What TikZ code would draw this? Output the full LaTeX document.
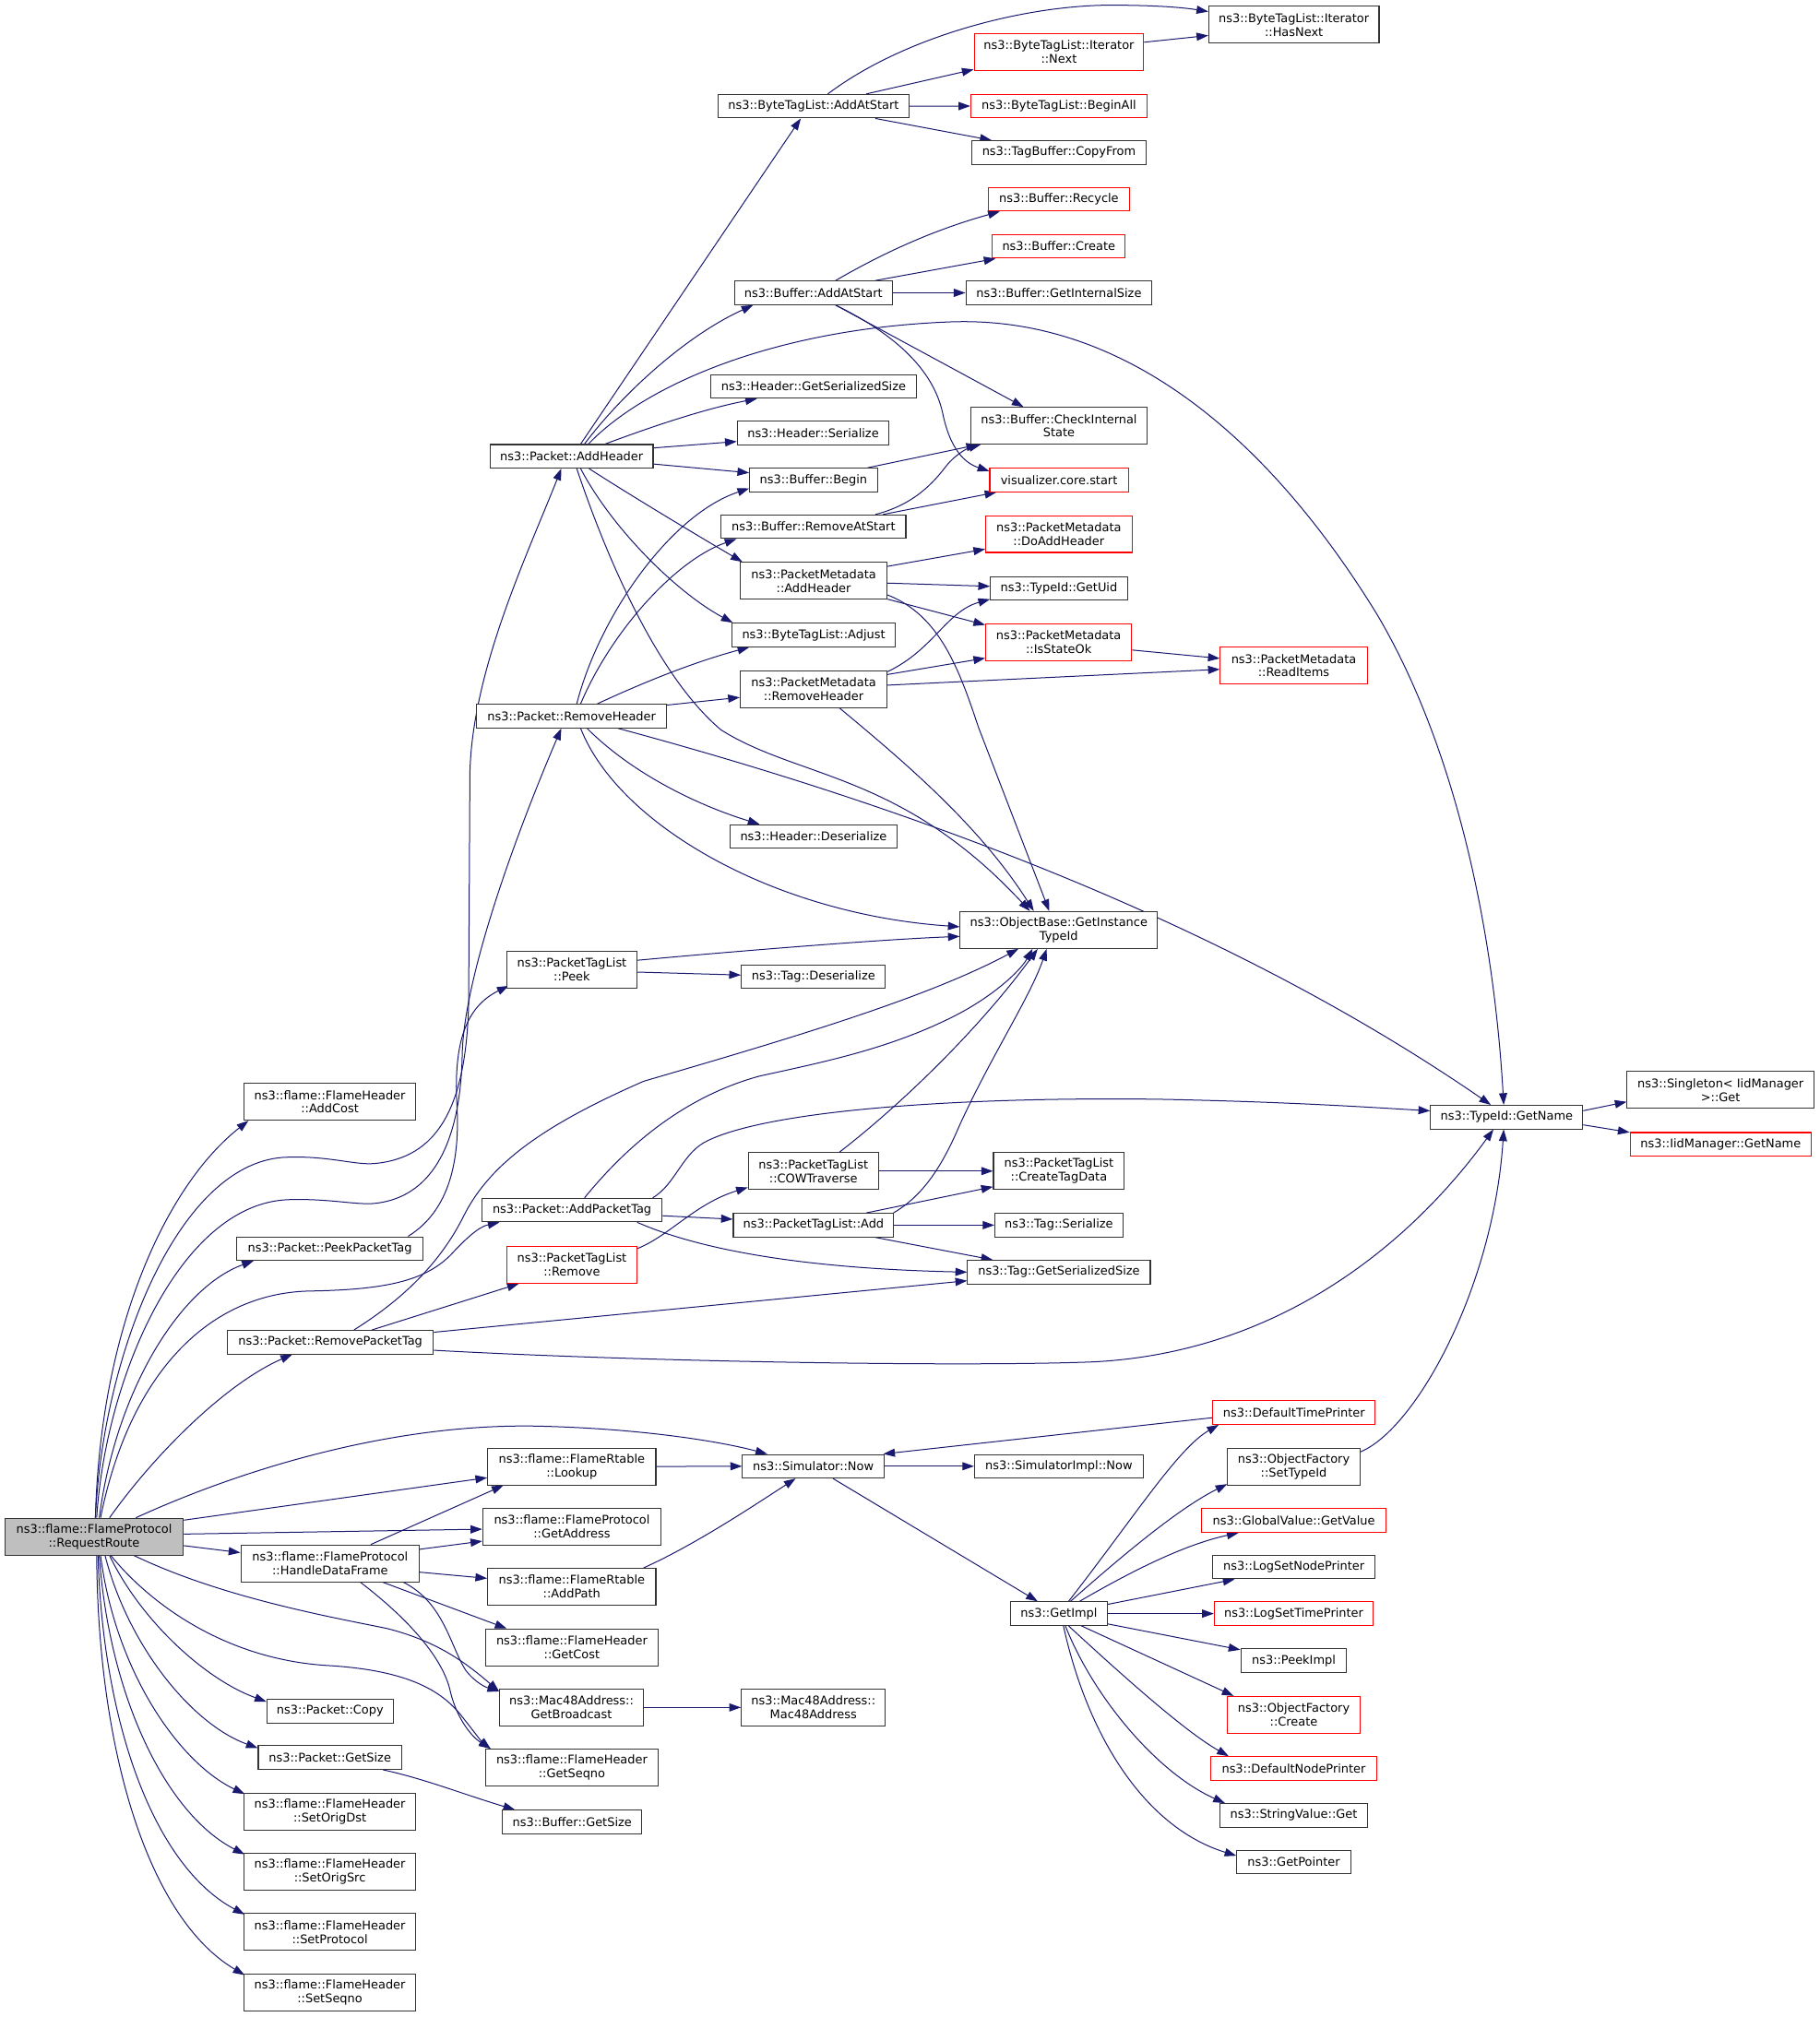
\documentclass[tikz,border=0pt]{standalone}
\usepackage{fontspec}
\newfontfamily\dvs{DejaVu Sans}
\usetikzlibrary{arrows.meta,calc}
\definecolor{edgec}{HTML}{191970}
\definecolor{redb}{HTML}{FF0000}
\definecolor{boxc}{HTML}{333333}
\newdimen\ux \ux=1.0467pt
\newcommand\nfont{\dvs\fontsize{9.7}{11.2}\selectfont}
\pgfdeclarelayer{bg}\pgfsetlayers{bg,main}
\begin{document}
\begin{tikzpicture}[x=1.0467pt,y=-1.0467pt,
 nb/.style={rectangle,draw=boxc,line width=0.8pt,fill=white,inner sep=0pt,align=center,font=\nfont,minimum height=18.3\ux},
 two/.style={minimum height=28.6\ux},
 rd/.style={draw=redb},
 bw/.style={minimum width=#1\ux},
 e/.style={draw=edgec,line width=0.75pt,-{Triangle[length=9.5pt,width=6.6pt]}}]
\useasboundingbox (0,0) rectangle (1413,1567);
% column 1-2
\node[nb,two,bw=138.6,fill=gray!50] (rr) at (73.1,1193.8) {ns3::flame::FlameProtocol\\::RequestRoute};
\node[nb,two,bw=133.7] (addcost) at (256.2,856) {ns3::flame::FlameHeader\\::AddCost};
\node[nb,bw=144.5] (peekpt) at (256.2,970) {ns3::Packet::PeekPacketTag};
\node[nb,bw=160] (rmpt) at (256.6,1042.7) {ns3::Packet::RemovePacketTag};
\node[nb,two,bw=138.7] (hdf) at (256.4,1214.6) {ns3::flame::FlameProtocol\\::HandleDataFrame};
\node[nb,bw=98.2] (copy) at (256.4,1329.3) {ns3::Packet::Copy};
\node[nb,bw=111.4] (pgetsize) at (256.3,1365.4) {ns3::Packet::GetSize};
\node[nb,two,bw=133.6] (setorigdst) at (256.2,1407.4) {ns3::flame::FlameHeader\\::SetOrigDst};
\node[nb,two,bw=133.6] (setorigsrc) at (256.2,1454.3) {ns3::flame::FlameHeader\\::SetOrigSrc};
\node[nb,two,bw=133.6] (setprotocol) at (256.2,1501) {ns3::flame::FlameHeader\\::SetProtocol};
\node[nb,two,bw=133.6] (setseqno) at (256.2,1548.1) {ns3::flame::FlameHeader\\::SetSeqno};
% column 3
\node[nb,bw=126.6] (addheader) at (444,354.5) {ns3::Packet::AddHeader};
\node[nb,bw=147.3] (rmheader) at (444,556.3) {ns3::Packet::RemoveHeader};
\node[nb,two,bw=101.4] (peek) at (444.2,753.2) {ns3::PacketTagList\\::Peek};
\node[nb,bw=140] (addpt) at (444.3,940.1) {ns3::Packet::AddPacketTag};
\node[nb,two,rd,bw=101.4] (ptlremove) at (444.2,982.6) {ns3::PacketTagList\\::Remove};
\node[nb,two,bw=130.7] (lookup) at (444.1,1139.3) {ns3::flame::FlameRtable\\::Lookup};
\node[nb,two,bw=138.5] (getaddress) at (444.2,1186) {ns3::flame::FlameProtocol\\::GetAddress};
\node[nb,two,bw=130.7] (addpath) at (444.1,1232.7) {ns3::flame::FlameRtable\\::AddPath};
\node[nb,two,bw=133.4] (getcost) at (444.2,1279.8) {ns3::flame::FlameHeader\\::GetCost};
\node[nb,two,bw=111.7] (getbroadcast) at (443.9,1326.5) {ns3::Mac48Address::\\GetBroadcast};
\node[nb,two,bw=133.4] (getseqno) at (444.2,1373.2) {ns3::flame::FlameHeader\\::GetSeqno};
\node[nb,bw=108.1] (bgetsize) at (444.4,1415.5) {ns3::Buffer::GetSize};
% column 4
\node[nb,bw=148.4] (btladd) at (631.9,82.5) {ns3::ByteTagList::AddAtStart};
\node[nb,bw=122.7] (baddat) at (631.8,227.5) {ns3::Buffer::AddAtStart};
\node[nb,bw=159.8] (hgetss) at (631.9,300.2) {ns3::Header::GetSerializedSize};
\node[nb,bw=117.9] (hser) at (631.6,336.5) {ns3::Header::Serialize};
\node[nb,bw=99.2] (bbegin) at (631.9,372.9) {ns3::Buffer::Begin};
\node[nb,bw=143.4] (brmat) at (631.9,409.2) {ns3::Buffer::RemoveAtStart};
\node[nb,two,bw=114] (pmaddh) at (632,451.2) {ns3::PacketMetadata\\::AddHeader};
\node[nb,bw=126.9] (btladj) at (632,493.3) {ns3::ByteTagList::Adjust};
\node[nb,two,bw=114] (pmrmh) at (632,535.3) {ns3::PacketMetadata\\::RemoveHeader};
\node[nb,bw=129.8] (hdeser) at (631.9,649.9) {ns3::Header::Deserialize};
\node[nb,bw=111.9] (tagdeser) at (631.8,758.8) {ns3::Tag::Deserialize};
\node[nb,two,bw=101.1] (cow) at (631.8,909.8) {ns3::PacketTagList\\::COWTraverse};
\node[nb,bw=124.6] (ptladd) at (631.9,951.8) {ns3::PacketTagList::Add};
\node[nb,bw=109.9] (simnow) at (631.7,1139.1) {ns3::Simulator::Now};
\node[nb,two,bw=111.9] (mac48) at (631.8,1326.5) {ns3::Mac48Address::\\Mac48Address};
% column 5
\node[nb,two,rd,bw=131.7] (itnext) at (822.5,40.3) {ns3::ByteTagList::Iterator\\::Next};
\node[nb,rd,bw=136.9] (beginall) at (822.5,82.4) {ns3::ByteTagList::BeginAll};
\node[nb,bw=135.7] (copyfrom) at (822.5,118.5) {ns3::TagBuffer::CopyFrom};
\node[nb,rd,bw=109.1] (recycle) at (822.5,154.8) {ns3::Buffer::Recycle};
\node[nb,rd,bw=103.4] (bcreate) at (822.4,191.4) {ns3::Buffer::Create};
\node[nb,bw=144.5] (getintsize) at (822.5,227.5) {ns3::Buffer::GetInternalSize};
\node[nb,two,bw=136.9] (checkint) at (822.5,330.8) {ns3::Buffer::CheckInternal\\State};
\node[nb,rd,bw=107.6] (vizstart) at (822.6,372.9) {visualizer.core.start};
\node[nb,two,rd,bw=113.6] (doaddh) at (822.4,414.9) {ns3::PacketMetadata\\::DoAddHeader};
\node[nb,bw=106.3] (getuid) at (822.5,457) {ns3::TypeId::GetUid};
\node[nb,two,rd,bw=113.4] (isok) at (822.3,499) {ns3::PacketMetadata\\::IsStateOk};
\node[nb,two,bw=153.2] (objb) at (822.4,722.5) {ns3::ObjectBase::GetInstance\\TypeId};
\node[nb,two,bw=101.7] (createtag) at (822.5,909.8) {ns3::PacketTagList\\::CreateTagData};
\node[nb,bw=99.5] (tagser) at (822.5,951.8) {ns3::Tag::Serialize};
\node[nb,bw=141.9] (taggss) at (822.5,988.3) {ns3::Tag::GetSerializedSize};
\node[nb,bw=131.1] (simimpl) at (822.5,1139.1) {ns3::SimulatorImpl::Now};
\node[nb,bw=75] (getimpl) at (822.5,1253.6) {ns3::GetImpl};
% column 6-7
\node[nb,two,bw=132.3] (hasnext) at (1005,19.2) {ns3::ByteTagList::Iterator\\::HasNext};
\node[nb,two,rd,bw=114.2] (readitems) at (1004.9,517.1) {ns3::PacketMetadata\\::ReadItems};
\node[nb,bw=118.2] (tgetname) at (1170.3,867.9) {ns3::TypeId::GetName};
\node[nb,two,bw=145.2] (singleton) at (1336.4,846.8) {ns3::Singleton< IidManager\\>::Get};
\node[nb,rd,bw=140.7] (iidget) at (1336.5,889) {ns3::IidManager::GetName};
\node[nb,rd,bw=126.2] (dtp) at (1005.1,1097.4) {ns3::DefaultTimePrinter};
\node[nb,two,bw=102.6] (settypeid) at (1004.9,1139.3) {ns3::ObjectFactory\\::SetTypeId};
\node[nb,rd,bw=143.5] (gvget) at (1005,1181.3) {ns3::GlobalValue::GetValue};
\node[nb,bw=125.7] (lsnp) at (1005,1217.4) {ns3::LogSetNodePrinter};
\node[nb,rd,bw=123.4] (lstp) at (1004.9,1253.6) {ns3::LogSetTimePrinter};
\node[nb,bw=82.3] (peekimpl) at (1004.9,1290.2) {ns3::PeekImpl};
\node[nb,two,rd,bw=102.6] (ofcreate) at (1004.9,1332.2) {ns3::ObjectFactory\\::Create};
\node[nb,rd,bw=128.4] (dnp) at (1004.9,1373.9) {ns3::DefaultNodePrinter};
\node[nb,bw=114.2] (svget) at (1004.9,1410.3) {ns3::StringValue::Get};
\node[nb,bw=88.4] (getptr) at (1004.9,1446.7) {ns3::GetPointer};

\begin{pgfonlayer}{bg}
\fill[white] (0,0) rectangle (1413,1567);
% RequestRoute
\draw[e] ($(rr.north)+(1,0)$) .. controls (78,1030) and (130,920) .. ($(addcost.south west)+(4,0)$);
\draw[e] ($(rr.north)+(1,0)$) .. controls (80,1050) and (140,900) .. (224,899) .. controls (255,898) and (275,905) .. (290,904) .. controls (340,900) and (362,860) .. (364,780) -- (365,600) .. controls (367,520) and (410,430) .. ($(addheader.south)+(-8,0)$);
\draw[e] ($(rr.north)+(2,0)$) .. controls (82,1070) and (140,935) .. (224,932) .. controls (255,931) and (275,936) .. (290,935) .. controls (345,930) and (358,870) .. (359,820) .. controls (360,760) and (400,650) .. ($(rmheader.south)+(-8,0)$);
\draw[e] ($(rr.north)+(4,0)$) .. controls (90,1080) and (140,1000) .. ($(peekpt.south)+(-59.2,0)$);
\draw[e] ($(rr.north)+(5,0)$) .. controls (100,1070) and (160,1005) .. (240,1003) .. controls (300,1002) and (330,995) .. (350,975) .. controls (362,962) and (372,953) .. ($(addpt.south)+(-56.3,0)$);
\draw[e] ($(rr.north)+(12,0)$) .. controls (120,1130) and (175,1075) .. ($(rmpt.south)+(-29.6,0)$);
\draw[e] ($(rr.north)+(32.5,0)$) .. controls (180,1145) and (300,1105) .. (420,1108) .. controls (500,1110) and (560,1120) .. ($(simnow.north)+(-35.7,0)$);
\draw[e] ($(rr.east)+(0,-12.8)$) -- ($(lookup.west)+(0,8.7)$);
\draw[e] ($(rr.east)+(0,-2)$) -- ($(getaddress.west)+(0,2)$);
\draw[e] ($(rr.east)+(0,7)$) -- ($(hdf.west)+(0,-8.4)$);
\draw[e] ($(rr.south)+(31,0)$) .. controls (170,1240) and (250,1255) .. (300,1265) .. controls (340,1275) and (362,1292) .. ($(getbroadcast.west)+(0,-12.5)$);
\draw[e] ($(rr.south)+(13,0)$) .. controls (120,1250) and (180,1290) .. (256,1294) .. controls (320,1298) and (345,1315) .. (360,1335) .. controls (368,1345) and (373,1352) .. ($(getseqno.north)+(-63.2,0)$);
\draw[e] ($(rr.south)+(12,0)$) .. controls (110,1260) and (160,1305) .. ($(copy.west)+(0,-7.3)$);
\draw[e] ($(rr.south)+(8.5,0)$) .. controls (100,1280) and (150,1340) .. ($(pgetsize.west)+(0,-7.4)$);
\draw[e] ($(rr.south)+(5,0)$) .. controls (90,1300) and (140,1370) .. ($(setorigdst.north west)+(1,1)$);
\draw[e] ($(rr.south)+(4,0)$) .. controls (85,1320) and (130,1410) .. ($(setorigsrc.north west)+(1,1)$);
\draw[e] ($(rr.south)+(3,0)$) .. controls (80,1340) and (120,1450) .. ($(setprotocol.north west)+(1,1)$);
\draw[e] ($(rr.south)+(2,0)$) .. controls (76,1360) and (115,1490) .. ($(setseqno.north west)+(1,1)$);
% PeekPacketTag
\draw[e] ($(peekpt.north)+(60.8,0)$) .. controls (350,940) and (357,900) .. (355,860) .. controls (352,810) and (362,782) .. ($(peek.south west)+(2,-2)$);
% HandleDataFrame
\draw[e] ($(hdf.north)+(31.6,0)$) -- ($(lookup.south)+(-53.1,0)$);
\draw[e] ($(hdf.east)+(0,-11)$) -- ($(getaddress.west)+(0,11.3)$);
\draw[e] ($(hdf.east)+(0,6.8)$) -- ($(addpath.west)+(0,-6.5)$);
\draw[e] ($(hdf.south)+(41.1,0)$) -- ($(getcost.north)+(-50.7,0)$);
\draw[e] ($(hdf.south)+(57,0)$) .. controls (345,1245) and (350,1280) .. (362,1298) .. controls (370,1308) and (378,1311) .. ($(getbroadcast.west)+(0,-12.5)$);
\draw[e] ($(hdf.south)+(23.6,0)$) .. controls (320,1260) and (345,1290) .. (350,1315) .. controls (355,1335) and (366,1349) .. ($(getseqno.north)+(-63.2,0)$);
% Simulator / GetImpl
\draw[e] (lookup.east) -- (simnow.west);
\draw[e] ($(addpath.north)+(55.9,0)$) .. controls (540,1200) and (585,1170) .. ($(simnow.south)+(-13.7,0)$);
\draw[e] (simnow.east) -- (simimpl.west);
\draw[e] ($(dtp.west)+(0,4)$) -- ($(simnow.north east)+(-1,0)$);
\draw[e] ($(simnow.south)+(15.3,0)$) -- ($(getimpl.north)+(-16.5,0)$);
\draw[e] ($(getimpl.north)+(7.5,0)$) .. controls (880,1180) and (915,1125) .. ($(dtp.south west)+(5,0)$);
\draw[e] ($(getimpl.north)+(9,0)$) .. controls (870,1210) and (915,1172) .. ($(settypeid.south west)+(0,-1)$);
\draw[e] ($(getimpl.north)+(16,0)$) .. controls (880,1220) and (920,1200) .. ($(gvget.south)+(-43,0)$);
\draw[e] ($(getimpl.east)+(0,-7.2)$) -- ($(lsnp.south)+(-46,0)$);
\draw[e] (getimpl.east) -- (lstp.west);
\draw[e] ($(getimpl.east)+(0,8)$) -- ($(peekimpl.north west)+(0,1)$);
\draw[e] ($(getimpl.south)+(17.5,0)$) -- ($(ofcreate.north west)+(5,0)$);
\draw[e] ($(getimpl.south)+(7.5,0)$) .. controls (870,1300) and (920,1345) .. ($(dnp.north west)+(14,0)$);
\draw[e] ($(getimpl.south)+(5,0)$) .. controls (850,1320) and (900,1378) .. ($(svget.north west)+(4,0)$);
\draw[e] ($(getimpl.south)+(3.5,0)$) .. controls (845,1350) and (890,1420) .. ($(getptr.west)+(0,-5)$);
\draw[e] ($(settypeid.east)+(0,-11.3)$) .. controls (1100,1110) and (1160,1000) .. ($(tgetname.south)+(-2.3,0)$);
\draw[e] (getbroadcast.east) -- (mac48.west);
\draw[e] ($(pgetsize.south)+(41.2,0)$) .. controls (330,1382) and (360,1394) .. ($(bgetsize.north)+(-44.4,0)$);
% AddHeader
\draw[e] ($(addheader.north)+(7,0)$) -- ($(btladd.south)+(-9.9,0)$);
\draw[e] ($(addheader.north)+(10,0)$) .. controls (480,310) and (530,262) .. ($(baddat.south)+(-46.8,0)$);
\draw[e] ($(addheader.north)+(13,0)$) .. controls (500,300) and (600,255) .. (740,250) .. controls (900,245) and (1010,380) .. (1070,478) .. controls (1130,580) and (1160,720) .. ($(tgetname.north)+(-2.3,0)$);
\draw[e] ($(addheader.north)+(26,0)$) .. controls (510,330) and (550,317) .. ($(hgetss.south)+(-43.9,0)$);
\draw[e] ($(addheader.east)+(0,-6.5)$) -- ($(hser.west)+(0,6.5)$);
\draw[e] ($(addheader.east)+(0,6)$) -- ($(bbegin.west)+(0,-5.6)$);
\draw[e] ($(addheader.south)+(13.5,0)$) .. controls (490,385) and (540,415) .. ($(pmaddh.north west)+(2,0)$);
\draw[e] ($(addheader.south)+(7,0)$) .. controls (475,410) and (525,460) .. ($(btladj.north west)+(1,0)$);
\draw[e] ($(addheader.south)+(4,0)$) .. controls (470,430) and (510,525) .. (560,567) .. controls (620,605) and (700,600) .. ($(objb.north)+(-22.4,0)$);
% RemoveHeader
\draw[e] ($(rmheader.north)+(4,0)$) .. controls (465,480) and (520,400) .. ($(bbegin.south west)+(0,-3)$);
\draw[e] ($(rmheader.north)+(7,0)$) .. controls (475,490) and (525,435) .. ($(brmat.south)+(-59.9,0)$);
\draw[e] ($(rmheader.north)+(20,0)$) .. controls (500,530) and (540,514) .. ($(btladj.south)+(-50,0)$);
\draw[e] ($(rmheader.north east)+(0,1)$) -- ($(pmrmh.west)+(0,6.5)$);
\draw[e] ($(rmheader.south)+(36,0)$) .. controls (700,625) and (950,715) .. ($(tgetname.north)+(-12.3,0)$);
\draw[e] ($(rmheader.south)+(12,0)$) .. controls (490,600) and (540,625) .. ($(hdeser.north)+(-41.9,0)$);
\draw[e] ($(rmheader.south)+(7,0)$) .. controls (480,640) and (600,710) .. ($(objb.west)+(0,-2.5)$);
% Peek
\draw[e] ($(peek.east)+(0,-7.2)$) .. controls (560,740) and (680,730) .. ($(objb.west)+(0,5)$);
\draw[e] ($(peek.east)+(0,2)$) -- ($(tagdeser.west)+(0,-1.3)$);
% PacketMetadata
\draw[e] ($(pmaddh.east)+(0,-11.2)$) -- ($(doaddh.west)+(0,11.7)$);
\draw[e] ($(pmaddh.east)+(0,1.8)$) -- ($(getuid.west)+(0,-1.5)$);
\draw[e] ($(pmaddh.east)+(0,14.3)$) -- ($(isok.west)+(0,-13.5)$);
\draw[e] ($(pmaddh.east)+(0,11)$) .. controls (730,478) and (745,520) .. (760,565) -- ($(objb.north)+(-7.4,0)$);
\draw[e] ($(pmrmh.east)+(0,-13.5)$) .. controls (725,505) and (735,475) .. ($(getuid.south west)+(0,-1)$);
\draw[e] ($(pmrmh.east)+(0,-11.3)$) -- ($(isok.west)+(0,12.3)$);
\draw[e] ($(pmrmh.east)+(0,-3)$) -- ($(readitems.west)+(0,2.9)$);
\draw[e] ($(isok.east)+(0,6)$) -- ($(readitems.west)+(0,-5.6)$);
\draw[e] ($(pmrmh.south)+(20,0)$) .. controls (700,590) and (760,640) .. ($(objb.north)+(-19.4,0)$);
% Buffer
\draw[e] ($(baddat.north)+(17.2,0)$) .. controls (680,200) and (720,180) .. ($(recycle.south west)+(9,0)$);
\draw[e] ($(baddat.north)+(48,0)$) -- ($(bcreate.south west)+(3,0)$);
\draw[e] (baddat.east) -- (getintsize.west);
\draw[e] ($(baddat.south)+(17.2,0)$) -- ($(checkint.north)+(-27.5,0)$);
\draw[e] ($(baddat.south)+(17.2,0)$) .. controls (700,262) and (725,290) .. (732,320) .. controls (738,350) and (750,360) .. ($(vizstart.west)+(0,-6.9)$);
\draw[e] ($(bbegin.north)+(42.1,0)$) -- ($(checkint.south west)+(6,0)$);
\draw[e] ($(brmat.north)+(48.1,0)$) .. controls (710,392) and (725,375) .. (735,362) .. controls (742,353) and (752,348) .. ($(checkint.south west)+(8,0)$);
\draw[e] ($(brmat.north)+(54,0)$) -- ($(vizstart.south)+(-48.6,0)$);
% ByteTagList
\draw[e] ($(btladd.north)+(11.1,0)$) .. controls (700,30) and (790,5) .. (860,4) .. controls (900,4) and (920,6) .. ($(hasnext.west)+(0,-10.2)$);
\draw[e] ($(btladd.north)+(41,0)$) -- ($(itnext.south west)+(0,-1)$);
\draw[e] ($(itnext.east)+(0,-7.5)$) -- ($(hasnext.west)+(0,8.4)$);
\draw[e] (btladd.east) -- (beginall.west);
\draw[e] ($(btladd.south)+(48,0)$) -- ($(copyfrom.north west)+(16,0)$);
% Tags
\draw[e] ($(rmpt.north)+(18.4,0)$) .. controls (320,1005) and (345,975) .. (360,945) .. controls (380,905) and (420,875) .. (500,840) .. controls (620,805) and (720,775) .. ($(objb.south)+(-31.4,0)$);
\draw[e] ($(addpt.north)+(9.7,0)$) .. controls (475,905) and (520,855) .. (590,836) .. controls (640,825) and (690,815) .. (740,790) .. controls (770,775) and (792,755) .. ($(objb.south)+(-20.4,0)$);
\draw[e] ($(cow.north)+(20.2,0)$) .. controls (700,858) and (760,800) .. ($(objb.south)+(-16.4,0)$);
\draw[e] ($(ptladd.north)+(62.1,0)$) .. controls (715,930) and (730,910) .. (745,875) .. controls (770,820) and (800,775) .. ($(objb.south)+(-9.4,0)$);
\draw[e] ($(addpt.north)+(62.7,0)$) .. controls (525,920) and (530,895) .. (550,886) .. controls (600,862) and (750,852) .. (900,854) .. controls (1000,856) and (1060,860) .. ($(tgetname.west)+(0,-4.9)$);
\draw[e] ($(addpt.east)+(0,4.4)$) -- ($(ptladd.west)+(0,-4.6)$);
\draw[e] ($(addpt.south)+(50.7,0)$) .. controls (530,965) and (600,985) .. (taggss.west);
\draw[e] ($(ptlremove.north east)+(0,2)$) .. controls (520,960) and (540,935) .. ($(cow.south west)+(0,-2)$);
\draw[e] (cow.east) -- (createtag.west);
\draw[e] ($(ptladd.north)+(41.1,0)$) -- ($(createtag.west)+(0,12.2)$);
\draw[e] (ptladd.east) -- (tagser.west);
\draw[e] ($(ptladd.south)+(48.1,0)$) -- ($(taggss.north west)+(20,0)$);
\draw[e] ($(rmpt.north)+(32.4,0)$) -- ($(ptlremove.south)+(-41.2,0)$);
\draw[e] ($(rmpt.east)+(0,-7.7)$) -- ($(taggss.west)+(0,6.7)$);
\draw[e] ($(rmpt.east)+(0,6.3)$) .. controls (500,1058) and (750,1062) .. (850,1058) .. controls (1000,1050) and (1100,960) .. ($(tgetname.south)+(-10.3,0)$);
\draw[e] ($(tgetname.east)+(0,-5)$) -- ($(singleton.west)+(0,9.2)$);
\draw[e] ($(tgetname.east)+(0,6)$) -- ($(iidget.west)+(0,-9.3)$);
\end{pgfonlayer}
\end{tikzpicture}
\end{document}
